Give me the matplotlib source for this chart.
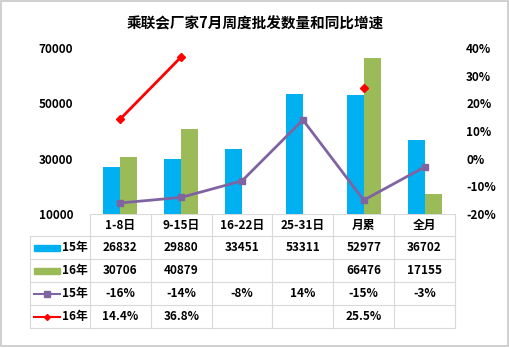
import numpy as np
import matplotlib
matplotlib.use('Agg')
import matplotlib.pyplot as plt
from matplotlib.patches import Rectangle
from matplotlib.lines import Line2D

plt.rcParams['font.family'] = ['Noto Sans CJK SC', 'DejaVu Sans']
plt.rcParams['font.weight'] = 'bold'

categories = ['1-8日', '9-15日', '16-22日', '25-31日', '月累', '全月']
sales_15 = [26832, 29880, 33451, 53311, 52977, 36702]
sales_16 = [30706, 40879, np.nan, np.nan, 66476, 17155]
growth_15 = [-16, -14, -8, 14, -15, -3]
growth_16 = [14.4, 36.8, np.nan, np.nan, 25.5, np.nan]

c_blue = '#00B0F0'
c_green = '#9BBB59'
c_purple = '#8064A2'
c_red = '#FF0000'
c_grid = '#D9D9D9'

W, H = 510, 348
fig = plt.figure(figsize=(W / 100, H / 100), dpi=100)

def box(x0, y0, x1, y1):
    # pixel box (top-left origin) -> figure fraction rect
    return [x0 / W, 1 - y1 / H, (x1 - x0) / W, (y1 - y0) / H]

# plot area
px0, px1, py0, py1 = 90, 455, 48, 214
ax = fig.add_axes(box(px0, py0, px1, py1))
ax2 = ax.twinx()

x = np.arange(len(categories))
bw = 0.28
ax.bar(x - bw / 2, sales_15, bw, color=c_blue, zorder=2)
ax.bar(x + bw / 2, sales_16, bw, color=c_green, zorder=2)
ax.set_xlim(-0.5, len(categories) - 0.5)
ax.set_ylim(10000, 70000)
ax.set_yticks([10000, 30000, 50000, 70000])
ax.set_xticks([])

g15 = np.array(growth_15) / 100
g16 = np.array(growth_16) / 100
ax2.plot(x, g15, color=c_purple, lw=2, marker='s', ms=5, zorder=3)
ax2.plot(x, g16, color=c_red, lw=2, marker='D', ms=4, zorder=3)
ax2.set_ylim(-0.2, 0.4)
ax2.set_yticks(np.arange(-0.2, 0.41, 0.1))
ax2.set_yticklabels([f'{v}%' for v in range(-20, 41, 10)])

for a in (ax, ax2):
    for s in a.spines.values():
        s.set_visible(False)
    a.tick_params(length=0, labelsize=8.5)
ax.tick_params(axis='y', pad=12)
ax2.tick_params(axis='y', pad=8)
ax.set_yticklabels([f'{v:d}' for v in [10000, 30000, 50000, 70000]])

# title
fig.text(0.5, 1 - 23 / H, '乘联会厂家7月周度批发数量和同比增速', ha='center', va='center',
         fontsize=10.5, fontweight='bold')

# data table drawn in pixel coordinates
tb = fig.add_axes([0, 0, 1, 1], zorder=-1)
tb.set_xlim(0, W)
tb.set_ylim(H, 0)
tb.axis('off')

col_w = (px1 - px0) / len(categories)
row_y = [214, 236, 259, 282, 305, 328]
leg_x0 = 30

kw = dict(color=c_grid, lw=0.8)
tb.plot([px0, px1], [row_y[0], row_y[0]], **kw)
for y in row_y[1:]:
    tb.plot([leg_x0, px1], [y, y], **kw)
tb.plot([leg_x0, leg_x0], [row_y[1], row_y[-1]], **kw)
for i in range(len(categories) + 1):
    xx = px0 + i * col_w
    tb.plot([xx, xx], [row_y[0], row_y[-1]], **kw)

def fmt_num(v):
    return '' if np.isnan(v) else f'{int(v)}'

def fmt_pct(v, d):
    return '' if np.isnan(v) else f'{v:.{d}f}%'

rows = [
    [fmt_num(v) for v in sales_15],
    [fmt_num(v) for v in sales_16],
    [fmt_pct(v, 0) for v in growth_15],
    [fmt_pct(v, 1) for v in growth_16],
]

for i, c in enumerate(categories):
    cx = px0 + (i + 0.5) * col_w
    tb.text(cx, (row_y[0] + row_y[1]) / 2, c, ha='center', va='center', fontsize=8.5)
    for r, vals in enumerate(rows):
        tb.text(cx, (row_y[r + 1] + row_y[r + 2]) / 2, vals[i], ha='center', va='center',
                fontsize=8.5)

# legend keys in the first column
for r in range(4):
    cy = (row_y[r + 1] + row_y[r + 2]) / 2
    if r == 0:
        tb.add_patch(Rectangle((34, cy - 3), 26, 6, color=c_blue))
    elif r == 1:
        tb.add_patch(Rectangle((34, cy - 3), 26, 6, color=c_green))
    elif r == 2:
        tb.add_line(Line2D([34, 60], [cy, cy], color=c_purple, lw=1.5))
        tb.plot(47, cy, marker='s', ms=4, color=c_purple)
    else:
        tb.add_line(Line2D([34, 60], [cy, cy], color=c_red, lw=1.5))
        tb.plot(47, cy, marker='D', ms=3, color=c_red)
    tb.text(62, cy, ['15年', '16年', '15年', '16年'][r], ha='left', va='center', fontsize=8.5)

# outer border
tb.add_patch(Rectangle((1, 1), W - 3, H - 3, fill=False, ec='#C8C8C8', lw=1.2))

fig.savefig('out.png', dpi=100, facecolor='white')
